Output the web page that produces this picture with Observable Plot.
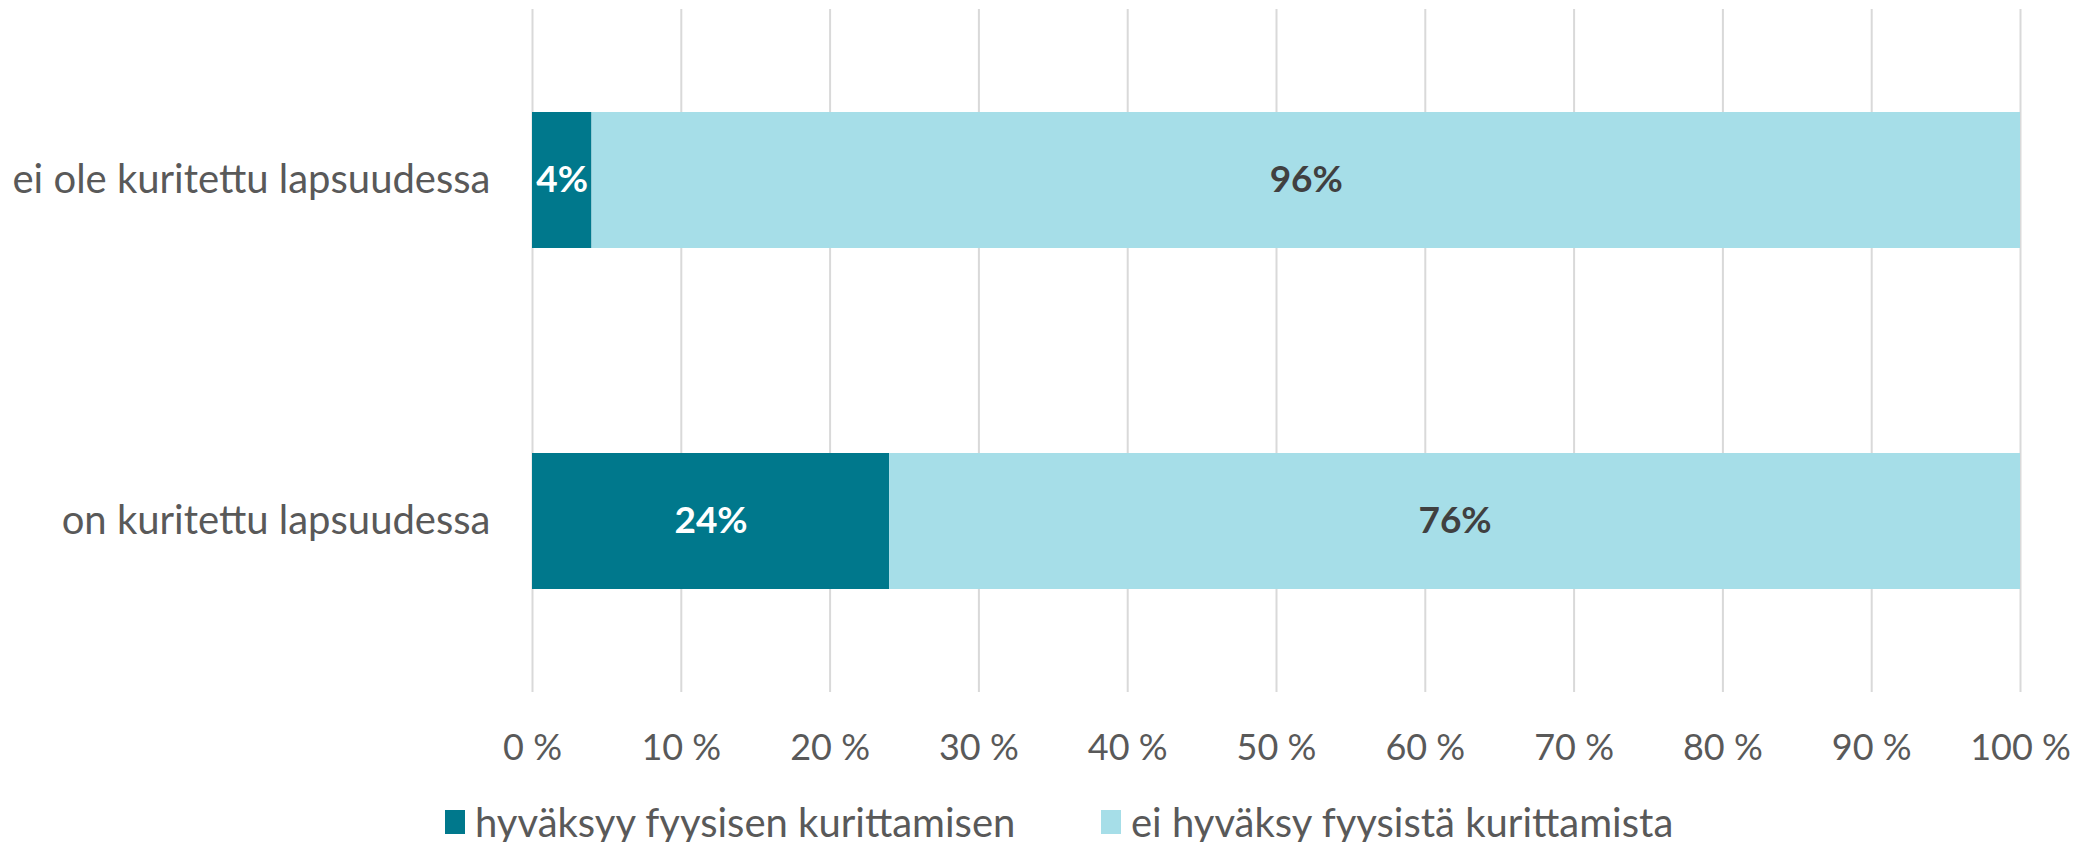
<!DOCTYPE html>
<html>
<head>
<meta charset="utf-8">
<script src="https://cdn.jsdelivr.net/npm/d3@7"></script>
<script src="https://cdn.jsdelivr.net/npm/@observablehq/plot@0.6"></script>
<style>
  html, body { margin: 0; padding: 0; background: #fff; }
  body { width: 2098px; height: 842px; overflow: hidden; font-family: Lato, "Open Sans", sans-serif; }
  #legend { display: flex; align-items: center; padding-left: 445px; padding-top: 22px; height: 40px; font-size: 40px; color: #595959; }
  .item { display: flex; align-items: center; }
  .sw { width: 20px; height: 24px; margin-right: 10px; }
</style>
</head>
<body>
<div id="chart"></div>
<div id="legend"></div>
<script>
const categories = ["ei ole kuritettu lapsuudessa", "on kuritettu lapsuudessa"];
const series = ["hyväksyy fyysisen kurittamisen", "ei hyväksy fyysistä kurittamista"];
const accepts = [4, 24];
const notAccepts = [96, 76];
const xTicks = [0, 10, 20, 30, 40, 50, 60, 70, 80, 90, 100];
const colors = ["#00788C", "#A6DEE8"];
const labelColors = ["#FFFFFF", "#404040"];

const rows = [];
categories.forEach((c, i) => {
  rows.push({category: c, series: series[0], value: accepts[i], si: 0});
  rows.push({category: c, series: series[1], value: notAccepts[i], si: 1});
});

const chart = Plot.plot({
  width: 2098,
  height: 780,
  marginLeft: 532,
  marginRight: 78,
  marginTop: 9,
  marginBottom: 88,
  style: {fontFamily: "Lato, 'Open Sans', sans-serif", fontSize: "36px", color: "#595959", background: "#fff"},
  x: {domain: [0, 100], ticks: xTicks, tickFormat: d => d + " %", tickSize: 0, tickPadding: 42, label: null},
  y: {domain: categories, paddingInner: 0.6, paddingOuter: 0.3, tickSize: 0, tickPadding: 42, label: null},
  color: {domain: series, range: colors},
  marks: [
    Plot.ruleX(xTicks, {stroke: "#D9D9D9", strokeWidth: 2}),
    Plot.barX(rows, Plot.stackX({x: "value", y: "category", fill: "series", order: series})),
    Plot.axisY({tickSize: 0, tickPadding: 42, fontSize: 40, label: null}),
    ...[0, 1].map(si => Plot.text(rows, Plot.filter(d => d.si === si, Plot.stackX({
      x: "value", y: "category", z: "series", order: series,
      text: d => d.value + "%",
      fill: labelColors[si], fontWeight: "bold", fontSize: 37
    }))))
  ]
});
document.getElementById("chart").appendChild(chart);

const legend = document.getElementById("legend");
series.forEach((s, i) => {
  const item = document.createElement("div");
  item.className = "item";
  if (i === 0) item.style.width = "656px";
  const sw = document.createElement("div");
  sw.className = "sw";
  sw.style.background = colors[i];
  const t = document.createElement("span");
  t.textContent = s;
  item.appendChild(sw);
  item.appendChild(t);
  legend.appendChild(item);
});
</script>
</body>
</html>
